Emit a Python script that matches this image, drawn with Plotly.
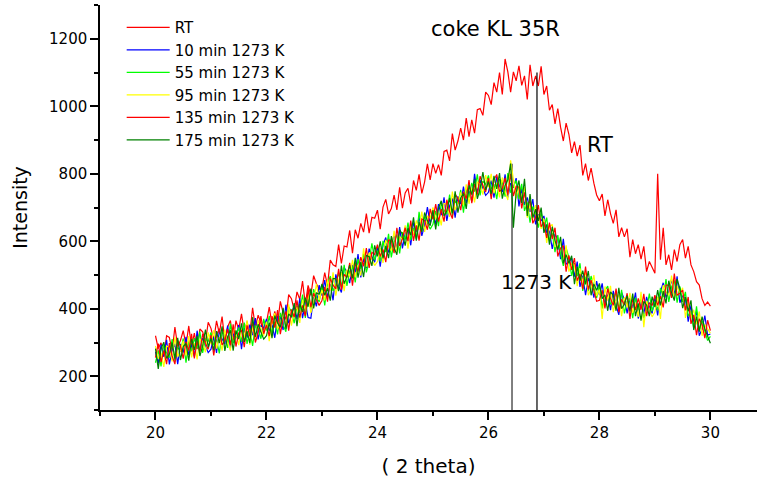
import numpy as np
import plotly.graph_objects as go

# 2-theta sampling grid (step 0.05) shared by all scans
two_theta = np.round(np.linspace(20.0, 30.0, 201), 2)

rt = [
    320, 282, 299, 258, 320, 315, 274, 346, 288, 306, 335, 292, 349, 286, 328, 280, 340, 332, 301, 360,
    342, 307, 364, 327, 377, 304, 346, 365, 305, 365, 338, 385, 330, 362, 326, 403, 345, 381, 358, 336,
    360, 405, 354, 392, 356, 422, 388, 368, 442, 430, 396, 450, 428, 482, 413, 469, 440, 498, 474, 458,
    460, 507, 469, 544, 530, 525, 590, 534, 586, 583, 632, 565, 634, 609, 653, 627, 682, 624, 671, 668,
    692, 636, 701, 724, 681, 697, 737, 693, 760, 698, 743, 757, 710, 780, 751, 798, 742, 776, 829, 782,
    830, 801, 827, 795, 866, 870, 838, 919, 870, 897, 935, 900, 965, 910, 960, 920, 990, 993, 973, 1042,
    1032, 1005, 1070, 1042, 1100, 1035, 1140, 1102, 1042, 1102, 1075, 1120, 1062, 1090, 1020, 1123, 1060, 1090, 1060, 1118,
    1035, 1060, 988, 1005, 948, 993, 938, 897, 950, 917, 862, 895, 852, 885, 795, 830, 780, 817, 772, 737,
    720, 740, 675, 723, 682, 653, 693, 613, 640, 613, 637, 553, 605, 563, 590, 547, 585, 510, 540, 520,
    505, 800, 545, 640, 530, 560, 515, 575, 540, 590, 605, 550, 585, 530, 510, 480, 470, 430, 410, 420,
    408,
]

min10 = [
    272, 237, 294, 258, 308, 235, 277, 296, 236, 296, 270, 317, 262, 294, 258, 335, 277, 314, 291, 270,
    280, 317, 269, 334, 310, 295, 350, 284, 326, 313, 352, 280, 344, 314, 353, 322, 372, 309, 351, 343,
    370, 334, 353, 314, 378, 375, 337, 412, 357, 378, 410, 370, 431, 372, 418, 374, 372, 434, 407, 470,
    439, 485, 434, 472, 425, 502, 468, 448, 522, 510, 476, 530, 508, 562, 493, 549, 520, 578, 554, 538,
    582, 525, 589, 611, 567, 582, 621, 576, 642, 579, 623, 635, 588, 656, 627, 672, 616, 648, 701, 652,
    682, 650, 710, 677, 730, 660, 705, 727, 670, 733, 710, 762, 712, 749, 718, 800, 743, 781, 758, 736,
    745, 780, 729, 791, 764, 746, 798, 730, 772, 759, 787, 703, 755, 708, 730, 687, 725, 650, 680, 660,
    675, 625, 630, 577, 622, 605, 547, 607, 532, 538, 550, 495, 540, 465, 498, 440, 490, 473, 433, 482,
    440, 475, 414, 442, 396, 453, 410, 382, 448, 428, 386, 432, 402, 448, 371, 420, 384, 435, 405, 386,
    432, 380, 450, 477, 433, 450, 488, 440, 496, 418, 438, 430, 362, 410, 362, 392, 320, 340, 380, 322,
    325,
]

min55 = [
    240, 277, 229, 294, 270, 255, 310, 244, 286, 273, 312, 240, 304, 274, 313, 282, 332, 269, 311, 303,
    330, 292, 309, 268, 330, 325, 284, 356, 298, 316, 345, 302, 359, 296, 338, 290, 350, 342, 311, 370,
    335, 379, 326, 362, 324, 388, 353, 332, 405, 392, 357, 410, 388, 442, 373, 429, 400, 458, 434, 420,
    466, 410, 474, 497, 453, 469, 508, 464, 530, 468, 512, 525, 478, 547, 518, 564, 508, 541, 594, 544,
    572, 540, 601, 568, 622, 552, 598, 620, 564, 627, 605, 655, 604, 639, 607, 687, 633, 673, 654, 636,
    650, 690, 645, 713, 692, 680, 738, 675, 720, 710, 752, 685, 754, 729, 773, 747, 798, 736, 778, 769,
    795, 755, 769, 725, 784, 776, 732, 802, 744, 762, 780, 725, 770, 690, 715, 655, 703, 683, 640, 687,
    640, 670, 603, 625, 568, 618, 563, 527, 580, 552, 497, 535, 497, 535, 453, 495, 452, 497, 460, 432,
    467, 400, 454, 467, 413, 420, 450, 398, 456, 386, 422, 427, 372, 433, 396, 435, 372, 398, 445, 392,
    422, 395, 462, 434, 488, 420, 465, 484, 418, 466, 420, 450, 378, 393, 342, 407, 337, 365, 333, 306,
    318,
]

min95 = [
    290, 252, 269, 228, 290, 285, 244, 316, 258, 276, 305, 262, 319, 256, 298, 250, 310, 302, 271, 330,
    295, 337, 282, 316, 276, 338, 300, 276, 346, 330, 292, 342, 316, 366, 293, 345, 312, 366, 338, 320,
    362, 304, 366, 387, 341, 355, 393, 348, 413, 350, 393, 405, 358, 427, 398, 444, 388, 421, 474, 426,
    456, 425, 486, 454, 508, 439, 485, 508, 452, 516, 494, 545, 494, 530, 498, 579, 525, 566, 547, 528,
    540, 580, 536, 604, 584, 572, 631, 568, 614, 604, 647, 578, 646, 619, 662, 634, 688, 628, 674, 669,
    700, 665, 685, 647, 712, 710, 672, 747, 692, 713, 745, 707, 769, 711, 758, 715, 776, 769, 738, 796,
    760, 800, 742, 773, 730, 789, 748, 722, 840, 776, 727, 765, 727, 760, 670, 710, 665, 707, 667, 637,
    667, 595, 643, 650, 585, 585, 603, 543, 588, 510, 533, 530, 467, 520, 478, 510, 440, 460, 500, 438,
    457, 370, 466, 424, 468, 390, 427, 442, 378, 434, 404, 447, 388, 416, 376, 450, 345, 423, 398, 376,
    390, 435, 370, 470, 450, 440, 498, 432, 468, 443, 462, 373, 420, 373, 397, 354, 392, 320, 353, 339,
    328,
]

min135 = [
    255, 297, 242, 276, 236, 298, 260, 236, 306, 290, 252, 302, 276, 326, 253, 305, 272, 326, 298, 280,
    322, 262, 322, 341, 293, 305, 340, 292, 354, 288, 328, 337, 286, 351, 318, 360, 300, 329, 378, 326,
    352, 319, 378, 344, 396, 325, 370, 392, 335, 398, 375, 425, 374, 410, 378, 459, 405, 446, 427, 410,
    424, 465, 421, 490, 470, 459, 518, 456, 502, 493, 536, 468, 536, 510, 553, 526, 580, 521, 567, 561,
    590, 555, 576, 538, 604, 602, 565, 640, 586, 607, 640, 600, 661, 601, 647, 602, 666, 661, 634, 696,
    665, 710, 658, 695, 658, 723, 688, 667, 740, 727, 692, 747, 726, 781, 713, 770, 738, 793, 765, 746,
    787, 725, 782, 798, 747, 756, 788, 738, 800, 734, 763, 760, 697, 745, 695, 725, 653, 670, 707, 643,
    657, 610, 655, 607, 640, 555, 580, 587, 510, 558, 515, 550, 483, 503, 458, 525, 457, 485, 453, 422,
    425, 455, 401, 460, 430, 410, 460, 390, 428, 411, 446, 370, 430, 396, 431, 397, 444, 378, 418, 409,
    440, 410, 437, 404, 470, 470, 432, 504, 440, 446, 455, 395, 435, 355, 382, 322, 370, 353, 313, 366,
    335,
]

min175 = [
    282, 222, 282, 301, 253, 265, 300, 252, 314, 248, 288, 297, 246, 311, 278, 320, 260, 289, 338, 286,
    312, 277, 334, 298, 348, 275, 317, 336, 276, 336, 310, 357, 302, 334, 298, 375, 317, 354, 331, 310,
    320, 359, 313, 380, 358, 345, 403, 340, 385, 375, 417, 348, 416, 390, 433, 406, 460, 401, 447, 443,
    474, 440, 461, 424, 490, 489, 452, 528, 474, 496, 529, 490, 551, 492, 538, 494, 558, 554, 527, 588,
    555, 600, 549, 586, 550, 615, 581, 560, 634, 621, 587, 640, 618, 671, 602, 657, 628, 685, 661, 646,
    692, 635, 698, 720, 675, 690, 728, 683, 748, 685, 728, 742, 696, 766, 738, 785, 726, 756, 805, 752,
    777, 740, 794, 755, 802, 726, 765, 782, 830, 640, 745, 780, 713, 785, 675, 740, 670, 695, 660, 700,
    625, 650, 590, 643, 602, 575, 613, 535, 560, 535, 557, 473, 525, 483, 513, 472, 512, 440, 473, 455,
    475, 430, 441, 394, 450, 440, 394, 462, 400, 414, 439, 392, 445, 378, 416, 365, 422, 411, 378, 436,
    405, 455, 410, 452, 416, 483, 448, 424, 488, 460, 402, 435, 392, 425, 337, 377, 332, 377, 340, 316,
    298,
]

series_names = ["RT", "10 min 1273 K", "55 min 1273 K", "95 min 1273 K",
                "135 min 1273 K", "175 min 1273 K"]
series_values = [rt, min10, min55, min95, min135, min175]
series_colors = ["#ff0000", "#0000ff", "#00ff00", "#ffff00", "#ff0000", "#008000"]

# reference lines (2 theta position, top intensity)
ref_x = [26.425, 26.875]
ref_top = [830, 1100]
ref_colors = ["#555555", "#000000"]
y_bottom = 100

FONT = "DejaVu Sans"

fig = go.Figure()

# gray reference line drawn beneath data
fig.add_trace(go.Scatter(x=[ref_x[0], ref_x[0]], y=[y_bottom, ref_top[0]], mode="lines",
                         line=dict(color=ref_colors[0], width=1.5), showlegend=False,
                         hoverinfo="skip"))

for name, vals, col in zip(series_names, series_values, series_colors):
    fig.add_trace(go.Scatter(x=two_theta, y=vals, mode="lines", name=name,
                             line=dict(color=col, width=1.2)))

fig.add_trace(go.Scatter(x=[ref_x[1], ref_x[1]], y=[y_bottom, ref_top[1]], mode="lines",
                         line=dict(color=ref_colors[1], width=1.2), showlegend=False,
                         hoverinfo="skip"))

fig.add_annotation(x=26.12, y=1230, text="coke KL 35R", showarrow=False,
                   font=dict(family=FONT, size=21, color="black"))
fig.add_annotation(x=28.01, y=886, text="RT", showarrow=False,
                   font=dict(family=FONT, size=21, color="black"))
fig.add_annotation(x=26.86, y=478, text="1273 K", showarrow=False,
                   font=dict(family=FONT, size=20, color="black"))

axis_common = dict(showline=True, linecolor="black", linewidth=1.5, ticks="outside",
                   ticklen=8, tickwidth=1.5, tickcolor="black", showgrid=False,
                   zeroline=False, tickfont=dict(family=FONT, size=15, color="black"))

fig.update_xaxes(range=[19, 30.84], dtick=2, tick0=0,
                 minor=dict(dtick=1, ticks="outside", ticklen=4, tickwidth=1.5,
                            tickcolor="black"),
                 title=dict(text="( 2 theta)", font=dict(family=FONT, size=20, color="black"),
                            standoff=18),
                 **axis_common)
fig.update_yaxes(range=[100, 1300], dtick=200, tick0=0,
                 minor=dict(dtick=100, ticks="outside", ticklen=4, tickwidth=1.5,
                            tickcolor="black"),
                 title=dict(text="Intensity", font=dict(family=FONT, size=19, color="black"),
                            standoff=16),
                 **axis_common)

fig.update_layout(
    width=757, height=479,
    margin=dict(l=100, r=0, t=5, b=69, autoexpand=False),
    paper_bgcolor="white", plot_bgcolor="white",
    showlegend=True,
    legend=dict(x=0.033, y=0.985, xanchor="left", yanchor="top",
                bgcolor="rgba(0,0,0,0)", font=dict(family=FONT, size=15, color="black"),
                tracegroupgap=0, itemwidth=43),
)

fig.write_html("out.html")
